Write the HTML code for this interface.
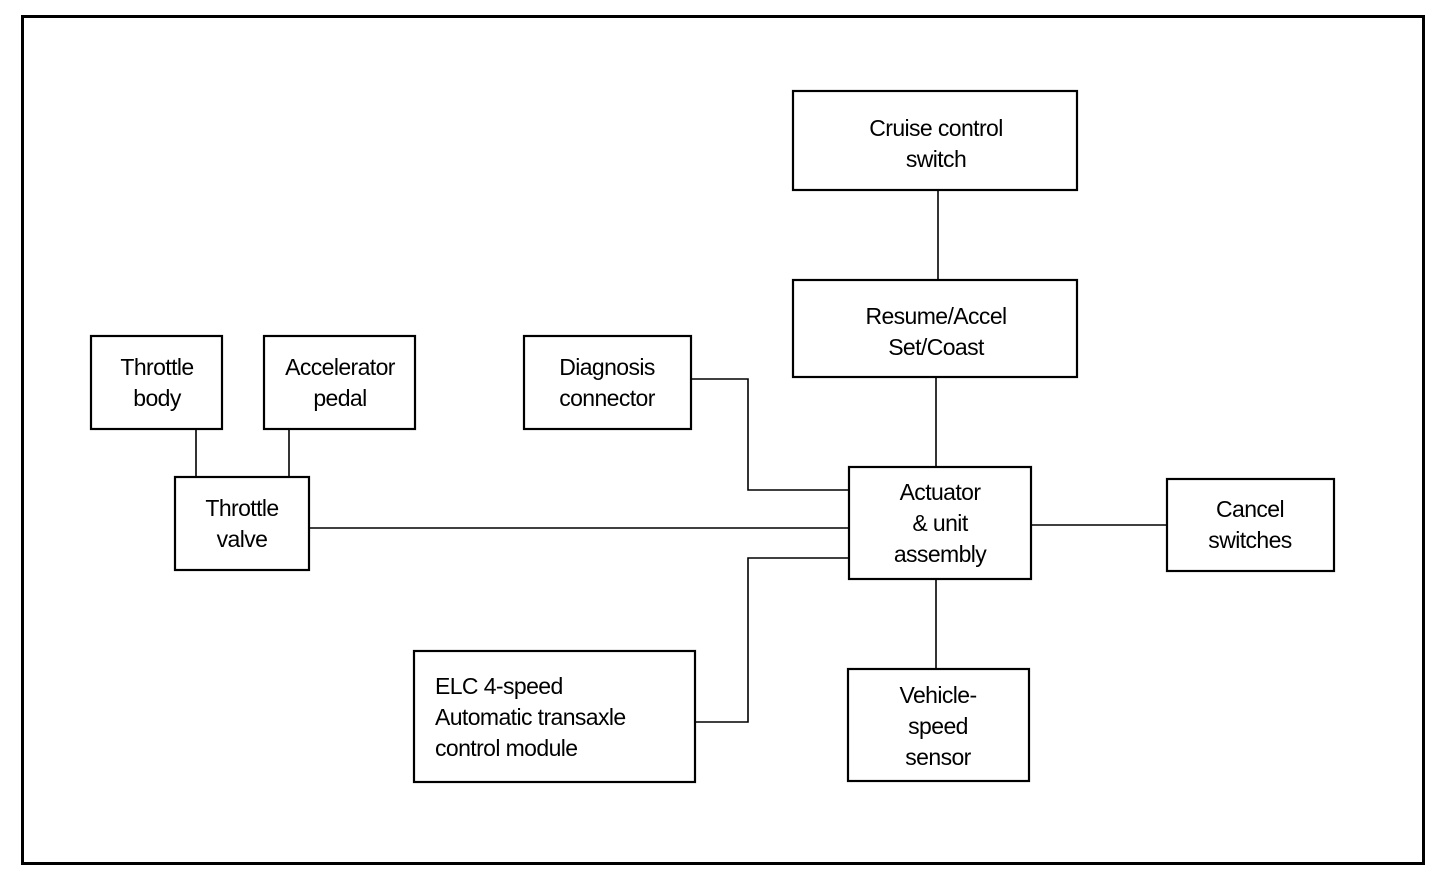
<!DOCTYPE html>
<html><head><meta charset="utf-8"><style>
html,body{margin:0;padding:0;background:#fff;width:1456px;height:878px;overflow:hidden}
svg text{font-family:"Liberation Sans",Arial,sans-serif;font-size:23px;fill:#000;letter-spacing:-0.6px}
</style></head><body>
<svg width="1456" height="878" viewBox="0 0 1456 878" xmlns="http://www.w3.org/2000/svg">
<rect x="0" y="0" width="1456" height="878" fill="#fff"/>
<rect x="22.5" y="16.5" width="1401" height="847" fill="none" stroke="#000" stroke-width="3"/>
<g fill="none" stroke="#000" stroke-width="2.2">
<rect x="793" y="91" width="284" height="99"/>
<rect x="793" y="280" width="284" height="97"/>
<rect x="524" y="336" width="167" height="93"/>
<rect x="91" y="336" width="131" height="93"/>
<rect x="264" y="336" width="151" height="93"/>
<rect x="175" y="477" width="134" height="93"/>
<rect x="849" y="467" width="182" height="112"/>
<rect x="1167" y="479" width="167" height="92"/>
<rect x="414" y="651" width="281" height="131"/>
<rect x="848" y="669" width="181" height="112"/>
</g>
<g fill="none" stroke="#000" stroke-width="1.6">
<line x1="938" y1="190" x2="938" y2="280"/>
<line x1="936" y1="377" x2="936" y2="467"/>
<line x1="196" y1="429" x2="196" y2="477"/>
<line x1="289" y1="429" x2="289" y2="477"/>
<line x1="309" y1="528" x2="849" y2="528"/>
<polyline points="691,379 748,379 748,490 849,490"/>
<polyline points="695,722 748,722 748,558 849,558"/>
<line x1="1031" y1="525" x2="1167" y2="525"/>
<line x1="936" y1="579" x2="936" y2="669"/>
</g>
<g text-anchor="middle">
<text x="936" y="136">Cruise control</text>
<text x="936" y="167">switch</text>
<text x="936" y="324">Resume/Accel</text>
<text x="936" y="355">Set/Coast</text>
<text x="607" y="375">Diagnosis</text>
<text x="607" y="406">connector</text>
<text x="157" y="375">Throttle</text>
<text x="157" y="406">body</text>
<text x="340" y="375">Accelerator</text>
<text x="340" y="406">pedal</text>
<text x="242" y="516">Throttle</text>
<text x="242" y="547">valve</text>
<text x="940" y="500">Actuator</text>
<text x="940" y="531">&amp; unit</text>
<text x="940" y="562">assembly</text>
<text x="1250" y="517">Cancel</text>
<text x="1250" y="548">switches</text>
<text x="938" y="703">Vehicle-</text>
<text x="938" y="734">speed</text>
<text x="938" y="765">sensor</text>
</g>
<text x="435" y="694">ELC 4-speed</text>
<text x="435" y="725">Automatic transaxle</text>
<text x="435" y="756">control module</text>
</svg>
</body></html>
